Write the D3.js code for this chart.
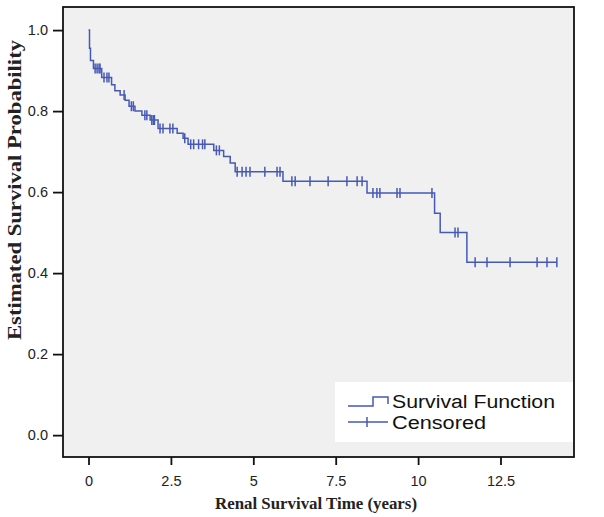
<!DOCTYPE html>
<html>
<head>
<meta charset="utf-8">
<script src="https://cdn.jsdelivr.net/npm/d3@7"></script>
<style>
  html, body { margin: 0; padding: 0; background: #fff; }
  svg { display: block; }
</style>
</head>
<body>
<svg id="chart" width="604" height="517"></svg>
<script>
// ---- data ----
const eventTimes    = [0.03, 0.06, 0.15, 0.40, 0.70, 0.80, 0.96, 1.11, 1.23, 1.41, 1.62, 1.87, 2.11, 2.69, 2.87, 3.02, 3.80, 4.10, 4.30, 4.45, 5.90, 8.45, 10.50, 10.67, 11.48];
const eventSurvival = [0.955, 0.925, 0.905, 0.883, 0.865, 0.850, 0.840, 0.827, 0.812, 0.800, 0.790, 0.778, 0.757, 0.745, 0.733, 0.718, 0.703, 0.688, 0.672, 0.650, 0.627, 0.598, 0.548, 0.500, 0.427];
const censorTimes   = [0.20, 0.26, 0.32, 0.35, 0.47, 0.56, 0.62, 1.08, 1.30, 1.36, 1.71, 1.77, 1.92, 1.97, 2.00,
                       2.17, 2.26, 2.47, 2.56, 2.92, 3.10, 3.19, 3.34, 3.46, 3.53, 3.88, 3.97,
                       4.51, 4.66, 4.78, 4.90, 5.35, 5.72, 5.81,
                       6.17, 6.27, 6.72, 7.27, 7.84, 8.15, 8.30,
                       8.63, 8.75, 8.84, 9.36, 9.45, 10.42,
                       11.12, 11.21, 11.73, 12.09, 12.79, 13.61, 13.91, 14.21];
const xTicks = [0, 2.5, 5, 7.5, 10, 12.5];
const yTicks = [0, 0.2, 0.4, 0.6, 0.8, 1.0];
const legendLabels = ["Survival Function", "Censored"];
const xTitle = "Renal Survival Time (years)";
const yTitle = "Estimated Survival Probability";

// ---- layout ----
const frame = {left: 63, right: 574, top: 7, bottom: 457};
const lineColor = "#4659b6";

const svg = d3.select("#chart");
const x = d3.scaleLinear().domain([-0.774, 14.73]).range([frame.left, frame.right]);
const y = d3.scaleLinear().domain([-0.054, 1.057]).range([frame.bottom, frame.top]);

// plot background
svg.append("rect")
  .attr("x", frame.left).attr("y", frame.top)
  .attr("width", frame.right - frame.left).attr("height", frame.bottom - frame.top)
  .attr("fill", "#f0f0f0");

// step curve
const pts = [[0, 1]];
eventTimes.forEach((t, i) => pts.push([t, eventSurvival[i]]));
const lastT = d3.max(censorTimes);
pts.push([lastT, eventSurvival[eventSurvival.length - 1]]);

const line = d3.line().x(d => x(d[0])).y(d => y(d[1])).curve(d3.curveStepAfter);
svg.append("path").datum(pts)
  .attr("d", line)
  .attr("fill", "none")
  .attr("stroke", lineColor)
  .attr("stroke-width", 1.5);

function survAt(t) {
  let s = 1;
  for (let i = 0; i < eventTimes.length; i++) if (eventTimes[i] <= t) s = eventSurvival[i];
  return s;
}
svg.append("g").selectAll("line").data(censorTimes).join("line")
  .attr("x1", d => x(d)).attr("x2", d => x(d))
  .attr("y1", d => y(survAt(d)) - 5).attr("y2", d => y(survAt(d)) + 5)
  .attr("stroke", lineColor).attr("stroke-width", 1.5);

// frame
svg.append("rect")
  .attr("x", frame.left).attr("y", frame.top)
  .attr("width", frame.right - frame.left).attr("height", frame.bottom - frame.top)
  .attr("fill", "none").attr("stroke", "#111").attr("stroke-width", 1.8);

// axes
const xAxis = d3.axisBottom(x).tickValues(xTicks).tickSize(8).tickPadding(11)
  .tickFormat(d => d3.format("")(d));
const gx = svg.append("g").attr("transform", `translate(0,${frame.bottom})`).call(xAxis);
gx.select(".domain").remove();
gx.selectAll(".tick line").attr("stroke", "#111").attr("stroke-width", 1.8);
gx.selectAll(".tick text").attr("font-family", "Liberation Sans, Arial, sans-serif")
  .attr("font-size", 14.5).attr("fill", "#222");

const yAxis = d3.axisLeft(y).tickValues(yTicks).tickSize(10).tickPadding(5)
  .tickFormat(d3.format(".1f"));
const gy = svg.append("g").attr("transform", `translate(${frame.left},0)`).call(yAxis);
gy.select(".domain").remove();
gy.selectAll(".tick line").attr("stroke", "#111").attr("stroke-width", 1.8);
gy.selectAll(".tick text").attr("font-family", "Liberation Sans, Arial, sans-serif")
  .attr("font-size", 14.5).attr("fill", "#222");

// axis titles
svg.append("text")
  .attr("x", 316).attr("y", 509)
  .attr("text-anchor", "middle")
  .attr("font-family", "Liberation Serif, 'DejaVu Serif', serif")
  .attr("font-weight", "bold").attr("font-size", 17).attr("fill", "#222")
  .attr("textLength", 202).attr("lengthAdjust", "spacingAndGlyphs")
  .text(xTitle);

svg.append("text")
  .attr("transform", "translate(21,190) rotate(-90)")
  .attr("text-anchor", "middle")
  .attr("font-family", "Liberation Serif, 'DejaVu Serif', serif")
  .attr("font-weight", "bold").attr("font-size", 19).attr("fill", "#222")
  .attr("textLength", 300).attr("lengthAdjust", "spacingAndGlyphs")
  .text(yTitle);

// legend
const lg = svg.append("g");
lg.append("rect").attr("x", 335).attr("y", 382).attr("width", 238).attr("height", 60)
  .attr("fill", "#fff");
lg.append("path")
  .attr("d", "M348,406 H373 V397 H388 V404")
  .attr("fill", "none").attr("stroke", lineColor).attr("stroke-width", 1.5);
lg.append("line").attr("x1", 348).attr("x2", 388).attr("y1", 422).attr("y2", 422)
  .attr("stroke", lineColor).attr("stroke-width", 1.5);
lg.append("line").attr("x1", 367).attr("x2", 367).attr("y1", 417).attr("y2", 427)
  .attr("stroke", lineColor).attr("stroke-width", 1.5);
const legendWidths = [163, 94];
lg.selectAll("text.lab").data(legendLabels).join("text")
  .attr("class", "lab")
  .attr("x", 392).attr("y", (d, i) => 408 + i * 21)
  .attr("font-family", "Liberation Sans, Arial, sans-serif")
  .attr("font-size", 18).attr("fill", "#111")
  .attr("textLength", (d, i) => legendWidths[i]).attr("lengthAdjust", "spacingAndGlyphs")
  .text(d => d);
</script>
</body>
</html>
